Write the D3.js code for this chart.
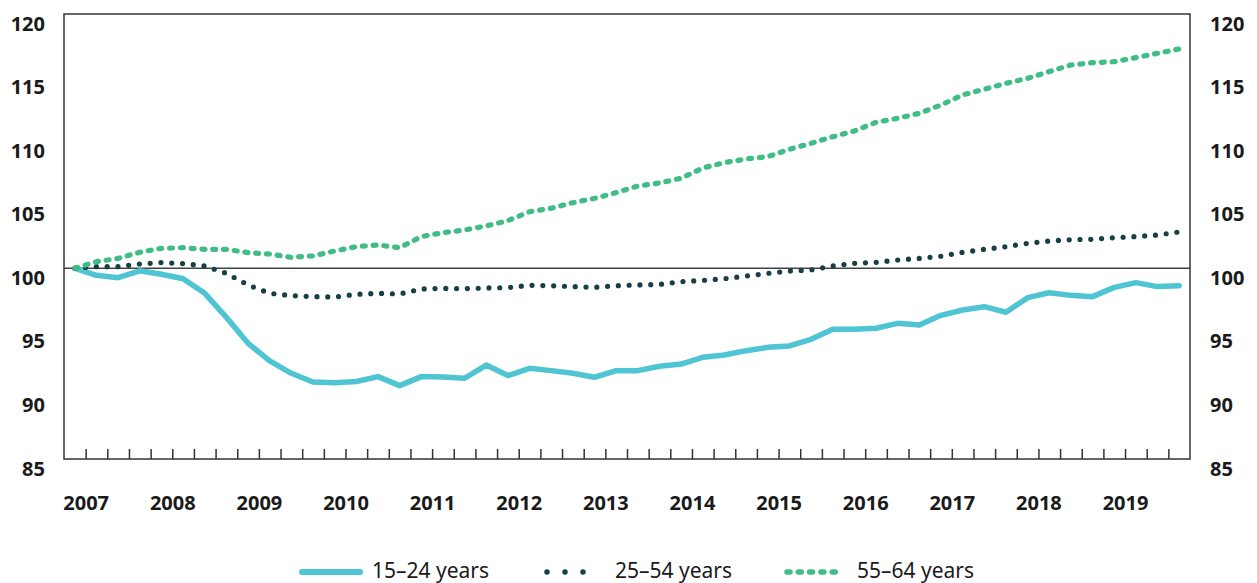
<!DOCTYPE html>
<html>
<head>
<meta charset="utf-8">
<script src="https://cdn.jsdelivr.net/npm/d3@7.9.0/dist/d3.min.js"></script>
<style>
  body { margin: 0; background: #fff; }
  svg { display: block; font-family: 'Noto Sans', sans-serif; }
  .axis text { font-family: 'Noto Sans', sans-serif; font-size: 20px; font-weight: 700; fill: #1a1a1a; }
</style>
</head>
<body>
<svg id="chart" width="1257" height="583"></svg>
<script>
// quarters 2007Q1 .. 2019Q4
const years = d3.range(2007, 2020);
const quarters = years.flatMap(y => [1, 2, 3, 4].map(q => `${y}Q${q}`));
const yTicks = [85, 90, 95, 100, 105, 110, 115, 120];

const youth = [
  100.0, 99.45, 99.26, 99.8, 99.53, 99.18, 98.03, 96.14, 94.10, 92.71,
  91.74, 91.06, 91.0, 91.1, 91.48, 90.77, 91.48, 91.45, 91.35, 92.39,
  91.56, 92.13, 91.95, 91.74, 91.43, 91.95, 91.95, 92.3, 92.47, 93.0,
  93.18, 93.52, 93.78, 93.89, 94.41, 95.2, 95.2, 95.28, 95.67, 95.54,
  96.3, 96.72, 96.98, 96.54, 97.69, 98.08, 97.87, 97.77, 98.5, 98.87,
  98.56, 98.63
];
const prime = [
  100.0, 100.13, 100.13, 100.34, 100.45, 100.37, 100.18, 99.6, 98.69, 98.03,
  97.85, 97.77, 97.74, 97.95, 98.03, 97.98, 98.37, 98.42, 98.40, 98.45,
  98.48, 98.66, 98.63, 98.56, 98.5, 98.63, 98.69, 98.73, 98.95, 99.05,
  99.18, 99.39, 99.6, 99.79, 99.87, 100.18, 100.39, 100.47, 100.65, 100.78,
  100.95, 101.26, 101.49, 101.70, 101.96, 102.15, 102.25, 102.28, 102.41, 102.49,
  102.62, 102.86
];
const older = [
  100.0, 100.52, 100.78, 101.26, 101.57, 101.62, 101.49, 101.49, 101.23, 101.12,
  100.86, 100.97, 101.36, 101.70, 101.83, 101.62, 102.49, 102.80, 103.01, 103.33,
  103.75, 104.45, 104.72, 105.16, 105.50, 105.95, 106.47, 106.71, 107.08, 107.89,
  108.31, 108.60, 108.78, 109.36, 109.83, 110.35, 110.80, 111.48, 111.80, 112.19,
  112.84, 113.63, 114.08, 114.55, 114.94, 115.47, 115.99, 116.17, 116.25, 116.57,
  116.91, 117.25
];

const series = [
  { name: '15–24 years', values: youth, color: '#4fc4d3', dash: null, legendDash: null },
  { name: '25–54 years', values: prime, color: '#173f46', dash: '0 10.8', legendDash: '0 18' },
  { name: '55–64 years', values: older, color: '#40bd86', dash: '3 7.8', legendDash: '3 8.3' },
];

const svg = d3.select('#chart');
const plot = { left: 64, right: 1190, top: 14, bottom: 459 };

// quarter index scale, ticks at quarter boundaries, points at centres
const x = d3.scaleLinear().domain([0, quarters.length]).range([plot.left, plot.right]);
const y = d3.scaleLinear().domain([85, 120]).range([plot.bottom, plot.top]);

// quarter tick marks (pointing inward)
svg.append('g')
  .attr('transform', `translate(0,${plot.bottom})`)
  .call(d3.axisBottom(x).tickValues(d3.range(1, quarters.length)).tickSize(-10).tickFormat(''))
  .call(g => g.select('.domain').remove())
  .call(g => g.selectAll('line').attr('stroke', '#333').attr('stroke-width', 1.5));

// year labels
svg.append('g')
  .attr('class', 'axis')
  .attr('transform', `translate(0,${plot.bottom})`)
  .call(d3.axisBottom(x).tickValues(years.map((yr, i) => i * 4 + 1)).tickSize(0).tickPadding(0)
    .tickFormat((d) => years[(d - 1) / 4]))
  .call(g => g.select('.domain').remove())
  .call(g => g.selectAll('text').attr('dy', null).attr('y', 51));

// y labels left and right
svg.append('g')
  .attr('class', 'axis')
  .attr('transform', `translate(${plot.left},0)`)
  .call(d3.axisLeft(y).tickValues(yTicks).tickSize(0).tickPadding(19))
  .call(g => g.select('.domain').remove())
  .call(g => g.selectAll('text').attr('dy', null).attr('y', 16));

svg.append('g')
  .attr('class', 'axis')
  .attr('transform', `translate(${plot.right},0)`)
  .call(d3.axisRight(y).tickValues(yTicks).tickSize(0).tickPadding(20))
  .call(g => g.select('.domain').remove())
  .call(g => g.selectAll('text').attr('dy', null).attr('y', 16));

// 100 reference line
svg.append('line')
  .attr('x1', plot.left).attr('x2', plot.right)
  .attr('y1', y(100)).attr('y2', y(100))
  .attr('stroke', '#444').attr('stroke-width', 1.5);

// lines
const line = d3.line()
  .x((d, i) => x(i + 0.5))
  .y((d) => y(d));

svg.append('g')
  .selectAll('path')
  .data(series)
  .join('path')
  .attr('d', (d) => line(d.values))
  .attr('fill', 'none')
  .attr('stroke', (d) => d.color)
  .attr('stroke-width', (d) => d.dash ? 5.2 : 5.5)
  .attr('stroke-linecap', 'round')
  .attr('stroke-linejoin', 'round')
  .attr('stroke-dasharray', (d) => d.dash);

// plot frame
svg.append('rect')
  .attr('x', plot.left).attr('y', plot.top)
  .attr('width', plot.right - plot.left).attr('height', plot.bottom - plot.top)
  .attr('fill', 'none').attr('stroke', '#333').attr('stroke-width', 1.5);

// legend
const legendX = [302, 547, 787];
const legendW = [58, 54, 56];
const legend = svg.append('g')
  .selectAll('g')
  .data(series)
  .join('g')
  .attr('transform', (d, i) => `translate(${legendX[i]},572)`);

legend.append('line')
  .attr('x1', 0).attr('x2', (d, i) => legendW[i])
  .attr('stroke', (d) => d.color)
  .attr('stroke-width', (d) => d.legendDash ? 5.5 : 6)
  .attr('stroke-linecap', 'round')
  .attr('stroke-dasharray', (d) => d.legendDash);

legend.append('text')
  .attr('x', (d, i) => legendW[i] + (i === 0 ? 12 : 14))
  .attr('y', 6)
  .attr('font-size', 21)
  .attr('fill', '#1a1a1a')
  .text((d) => d.name);
</script>
</body>
</html>
